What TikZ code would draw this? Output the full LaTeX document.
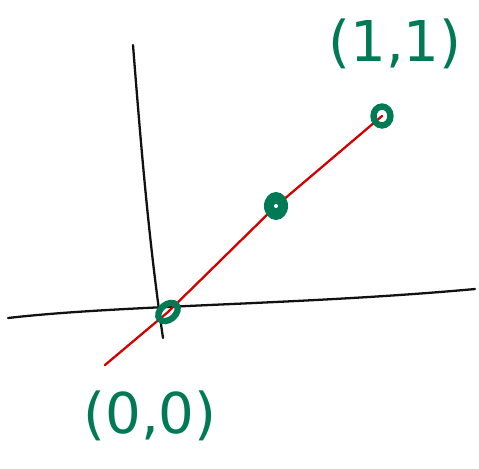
\documentclass[tikz,border=0pt]{standalone}
\usepackage{fontspec}
\setsansfont{DejaVu Sans}
\usetikzlibrary{calc,positioning}
\definecolor{SketchInk}{HTML}{111111}
\definecolor{SketchRed}{HTML}{D40000}
\definecolor{SketchGreen}{HTML}{007A55}
\tikzset{
  every node/.style={font=\sffamily, text=SketchGreen},
  axis/.style={draw=SketchInk, line width=1.3pt, line cap=round},
  segment/.style={draw=SketchRed, line width=1.3pt, line cap=round},
  ring/.style={draw=SketchGreen, line width=3.6pt},
  blob/.style={fill=SketchGreen},
  pointlabel/.style={font=\sffamily\fontsize{32}{36}\selectfont\mdseries, text=SketchGreen},
}
\begin{document}
\begin{tikzpicture}[x=0.02cm,y=-0.02cm]
  \useasboundingbox (0,0) rectangle (479,468);
  % axes
  \draw[axis] (8,318) .. controls (120,305) and (300,305) .. (475,289);
  \draw[axis] (133,45) .. controls (142,160) and (150,250) .. (163,338);
  % end points and midpoint
  \coordinate (p00) at (168,312);
  \coordinate (pmid) at (276,206);
  \coordinate (p11) at (382,116);
  \coordinate (tail) at (105,365);
  \draw[segment] (tail) -- (p00) -- (pmid) -- (p11);
  \draw[ring, rotate around={40:(p00)}] (p00) ellipse (11 and 7.5);
  \fill[blob] (pmid) ellipse (12 and 14);
  \fill[white] (pmid) circle (2);
  \draw[ring] (p11) ellipse (8.5 and 9.5);
  % labels
  \node[pointlabel] (l11) at (395,44) {(1,1)};
  \node[pointlabel] (l00) at (150,416) {(0,0)};
\end{tikzpicture}
\end{document}
